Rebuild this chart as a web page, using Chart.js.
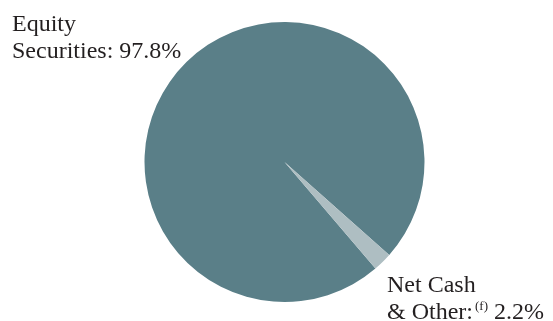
<!DOCTYPE html>
<html>
<head>
<meta charset="utf-8">
<script src="https://cdn.jsdelivr.net/npm/chart.js@4"></script>
<style>
  html, body { margin: 0; padding: 0; background: #fff; }
  #wrap { width: 553px; height: 321px; position: relative; }
</style>
</head>
<body>
<div id="wrap"><canvas id="allocationPie"></canvas></div>
<script>
const categories = ['Equity Securities', 'Net Cash & Other'];
const shares = [97.8, 2.2];
const sliceColors = ['#5a7f88', '#aebec2'];

// label lines per slice; sup marks the footnote part
const labelLines = [
  [[{ text: 'Equity' }], [{ text: 'Securities: 97.8%' }]],
  [[{ text: 'Net Cash' }], [{ text: '& Other:' }, { text: '(f)', sup: true }, { text: ' 2.2%' }]]
];

const sliceLabels = {
  id: 'sliceLabels',
  afterDraw(chart) {
    const { ctx, chartArea } = chart;
    const spots = [
      { x: chartArea.left - 132, y: chartArea.top + 9 },
      { x: chartArea.right - 38, y: chartArea.bottom - 10 }
    ];
    ctx.save();
    ctx.fillStyle = '#231f20';
    ctx.textBaseline = 'alphabetic';
    labelLines.forEach((lines, i) => {
      lines.forEach((parts, j) => {
        let x = spots[i].x;
        const y = spots[i].y + j * 26.5;
        parts.forEach((p) => {
          ctx.font = p.sup ? '13px "Liberation Serif"' : '24px "Liberation Serif"';
          ctx.fillText(p.text, x + (p.sup ? 2 : 0), p.sup ? y - 9 : y);
          x += ctx.measureText(p.text).width + (p.sup ? 2 : 0);
        });
      });
    });
    ctx.restore();
  }
};

// eslint-disable-next-line no-new
new Chart(document.getElementById('allocationPie'), {
  type: 'pie',
  data: {
    labels: categories,
    datasets: [{
      data: shares,
      backgroundColor: sliceColors,
      borderWidth: 0
    }]
  },
  options: {
    responsive: true,
    maintainAspectRatio: false,
    animation: false,
    rotation: 139.5,
    layout: {
      padding: { left: 144, right: 128, top: 22, bottom: 19 }
    },
    plugins: {
      legend: { display: false },
      tooltip: { enabled: false }
    }
  },
  plugins: [sliceLabels]
});
</script>
</body>
</html>
